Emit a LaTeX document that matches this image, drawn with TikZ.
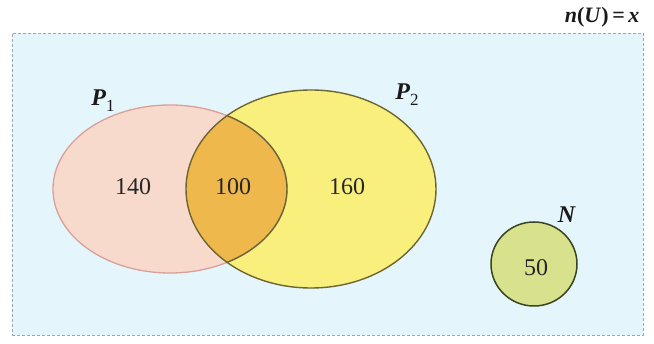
\documentclass[tikz,border=0pt]{standalone}
\usepackage{fontspec}
\setmainfont{Liberation Serif}
\usetikzlibrary{shapes.geometric}
\definecolor{bgblue}{HTML}{E4F5FC}
\definecolor{pone}{HTML}{F8DACD}
\definecolor{poneline}{HTML}{D9A09A}
\definecolor{ptwo}{HTML}{F8EF7C}
\definecolor{ptwoline}{HTML}{6E6530}
\definecolor{both}{HTML}{EEB84C}
\definecolor{nfill}{HTML}{D8E18C}
\definecolor{nline}{HTML}{3A4520}
\definecolor{frame}{HTML}{9AA8B4}
\tikzset{
  numlbl/.style={font=\fontsize{24}{26}\selectfont, text=black!85},
  setlbl/.style={font=\fontsize{24}{26}\selectfont, text=black!90},
}
\newcommand{\vb}[1]{\textbf{\textit{#1}}}
\begin{document}
\begin{tikzpicture}[x=1pt,y=-1pt]
\useasboundingbox (0,0) rectangle (654,344);
\node[draw=frame, densely dashed, line width=0.6pt, fill=bgblue, minimum width=631pt, minimum height=302pt, inner sep=0, anchor=north west] (U) at (12,33) {};
% fills
\fill[pone] (170,189) ellipse [x radius=117, y radius=84];
\fill[ptwo] (311,189) ellipse [x radius=125, y radius=99];
\begin{scope}
  \clip (170,189) ellipse [x radius=117, y radius=84];
  \fill[both] (311,189) ellipse [x radius=125, y radius=99];
\end{scope}
% outlines
\draw[poneline, line width=1.3pt] (170,189) ellipse [x radius=117, y radius=84];
\draw[ptwoline, line width=1.4pt] (311,189) ellipse [x radius=125, y radius=99];
\begin{scope}
  \clip (311,189) ellipse [x radius=125, y radius=99];
  \draw[ptwoline, line width=1.4pt] (170,189) ellipse [x radius=117, y radius=84];
\end{scope}
\node[ellipse, draw=nline, line width=1.5pt, fill=nfill, minimum width=86pt, minimum height=84pt, inner sep=0] (N) at (534,264) {};
% labels
\node[setlbl] (lP1) at (103,101) {\vb{P}\raisebox{-0.25em}{\fontsize{17}{18}\selectfont 1}};
\node[setlbl] (lP2) at (407,95) {\vb{P}\raisebox{-0.25em}{\fontsize{17}{18}\selectfont 2}};
\node[setlbl] (lN) at (567,215) {\vb{N}};
\node[setlbl, anchor=east, font=\fontsize{22}{24}\selectfont] (lU) at (643,17) {\vb{n}\textbf{(}\vb{U}\textbf{)}\,\textbf{=}\,\vb{x}};
\node[numlbl] (a) at (133,187) {140};
\node[numlbl] (b) at (233,187) {100};
\node[numlbl] (c) at (347,187) {160};
\node[numlbl] (d) at (536,268) {50};
\end{tikzpicture}
\end{document}
